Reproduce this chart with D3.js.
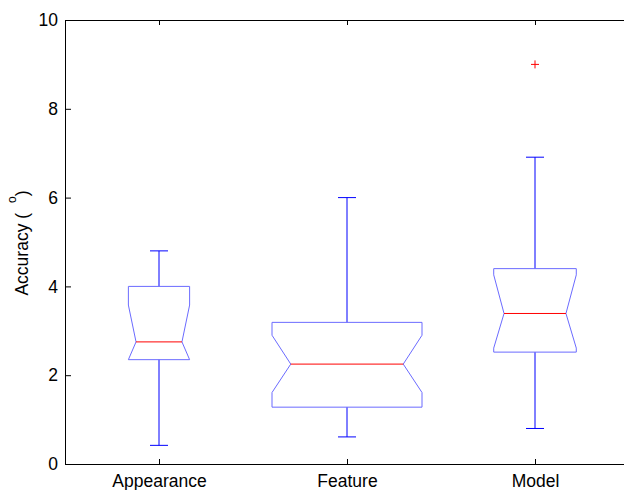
<!DOCTYPE html>
<html>
<head>
    <meta charset="utf-8">
    <script src="https://d3js.org/d3.v7.min.js"></script>
    <style>
        body { margin: 0; background: #fff; }
        text { font-family: "Liberation Sans", Arial, Helvetica, sans-serif; }
    </style>
</head>
<body>
    <div id="chart"></div>

    <script>
        // data
        const categories = ['Appearance', 'Feature', 'Model'];
        const whiskerLow = [0.42, 0.61, 0.80];
        const q1 = [2.35, 1.28, 2.52];
        const median = [2.75, 2.25, 3.39];
        const q3 = [4.00, 3.19, 4.40];
        const whiskerHigh = [4.80, 6.00, 6.91];
        const notchLow = [2.35, 1.61, 2.61];
        const notchHigh = [3.58, 2.90, 4.26];
        const counts = [11, 66, 20];
        const outliers = [[], [], [9.0]];
        const yTicks = [0, 2, 4, 6, 8, 10];

        const width = 624;
        const height = 490;
        const margin = {left: 65, top: 20, bottom: 464, right: 629};

        const svg = d3.select("#chart")
            .append("svg")
            .attr("width", width)
            .attr("height", height);

        const x = d3.scaleLinear()
            .domain([0.5, categories.length + 0.5])
            .range([margin.left, margin.right]);

        const y = d3.scaleLinear()
            .domain([0, 10])
            .range([margin.bottom, margin.top]);

        // box width grows with sqrt of group size
        const w = d3.scaleSqrt()
            .domain([0, d3.max(counts)])
            .range([0, 150]);

        const fontSize = 17.5;

        // axes
        const yAxis = svg.append("g")
            .attr("transform", `translate(${margin.left}, 0)`)
            .call(d3.axisLeft(y).tickValues(yTicks).tickSizeInner(-6).tickSizeOuter(0).tickPadding(7));

        const xAxis = svg.append("g")
            .attr("transform", `translate(0, ${margin.bottom})`)
            .call(d3.axisBottom(x).tickValues(d3.range(1, categories.length + 1))
                .tickFormat(d => categories[d - 1])
                .tickSizeInner(-5).tickSizeOuter(0).tickPadding(11));

        const topAxis = svg.append("g")
            .attr("transform", `translate(0, ${margin.top})`)
            .call(d3.axisTop(x).tickValues(d3.range(1, categories.length + 1))
                .tickFormat("").tickSizeInner(-5).tickSizeOuter(0));

        [yAxis, xAxis, topAxis].forEach(g => {
            g.selectAll("text")
                .attr("font-family", '"Liberation Sans", Arial, sans-serif')
                .attr("font-size", fontSize)
                .attr("fill", "#000");
            g.selectAll("path, line").attr("stroke", "#000");
            g.attr("font-family", null).attr("font-size", null);
        });

        // y label
        const label = svg.append("text")
            .attr("transform", "translate(28, 243) rotate(-90)")
            .attr("text-anchor", "middle")
            .attr("font-size", fontSize)
            .attr("fill", "#000");
        label.append("tspan").text("Accuracy (");
        label.append("tspan")
            .attr("dx", 10)
            .attr("dy", -12)
            .attr("font-size", 12)
            .text("o");
        label.append("tspan")
            .attr("dx", 0)
            .attr("dy", 12)
            .text(")");

        const idx = d3.range(categories.length);

        // whiskers
        const g = svg.append("g");
        idx.forEach(i => {
            const cx = x(i + 1);
            g.append("line")
                .attr("x1", cx).attr("x2", cx)
                .attr("y1", y(q3[i])).attr("y2", y(whiskerHigh[i]))
                .attr("stroke", "#0000ff");
            g.append("line")
                .attr("x1", cx).attr("x2", cx)
                .attr("y1", y(q1[i])).attr("y2", y(whiskerLow[i]))
                .attr("stroke", "#0000ff");
            [whiskerHigh[i], whiskerLow[i]].forEach(v => {
                g.append("line")
                    .attr("x1", cx - 9).attr("x2", cx + 9)
                    .attr("y1", y(v)).attr("y2", y(v))
                    .attr("stroke", "#0000ff");
            });
        });

        // notched boxes
        idx.forEach(i => {
            const cx = x(i + 1);
            const h = w(counts[i]) / 2;
            const ind = h * 0.25;
            const p = d3.path();
            p.moveTo(cx - h, y(q1[i]));
            p.lineTo(cx - h, y(notchLow[i]));
            p.lineTo(cx - h + ind, y(median[i]));
            p.lineTo(cx - h, y(notchHigh[i]));
            p.lineTo(cx - h, y(q3[i]));
            p.lineTo(cx + h, y(q3[i]));
            p.lineTo(cx + h, y(notchHigh[i]));
            p.lineTo(cx + h - ind, y(median[i]));
            p.lineTo(cx + h, y(notchLow[i]));
            p.lineTo(cx + h, y(q1[i]));
            p.closePath();
            g.append("path")
                .attr("d", p.toString())
                .attr("fill", "none")
                .attr("stroke", "#6b6bff");
            g.append("line")
                .attr("x1", cx - h + ind).attr("x2", cx + h - ind)
                .attr("y1", y(median[i])).attr("y2", y(median[i]))
                .attr("stroke", "#ff0000");
        });

        // outliers
        idx.forEach(i => {
            const cx = x(i + 1);
            outliers[i].forEach(v => {
                g.append("path")
                    .attr("d", `M${cx - 4},${y(v)}H${cx + 4}M${cx},${y(v) - 4}V${y(v) + 4}`)
                    .attr("stroke", "#ff0000")
                    .attr("fill", "none");
            });
        });
    </script>
</body>
</html>
